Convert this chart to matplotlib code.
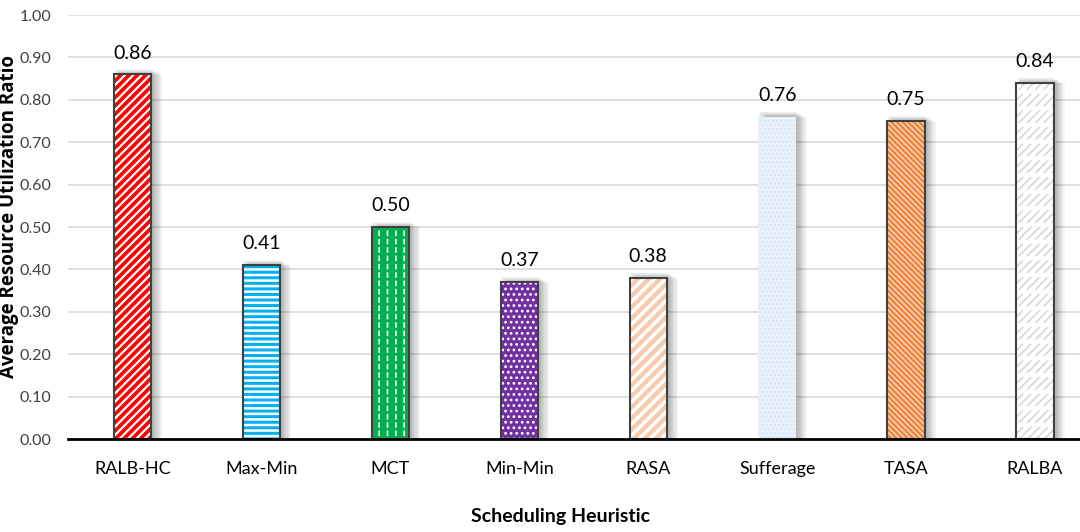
import matplotlib.pyplot as plt
import matplotlib.patches as mpatches

heuristics = ['RALB-HC', 'Max-Min', 'MCT', 'Min-Min', 'RASA', 'Sufferage', 'TASA', 'RALBA']
utilization = [0.86, 0.41, 0.50, 0.37, 0.38, 0.76, 0.75, 0.84]

face_colors = ['#FF0000', '#00B0F0', '#00B050', '#7030A0', '#F8CBAD', '#EAF2FB', '#ED7D31', '#FFFFFF']
hatch_colors = ['white', 'white', 'white', 'white', 'white', '#D6E6F5', '#F8CBAD', '#D6D6D6']
hatches = ['////', '---', '||', '...', '///', '....', '\\\\\\\\\\\\', '////']
hatch_widths = [1.6, 1.8, 1.2, 1.2, 2.5, 1.0, 1.4, 1.2]
edge_colors = ['#404040'] * 5 + ['none', '#404040', '#404040']
# second hatch layer that cuts lines into short dashes (MCT, RALBA)
break_hatch = {2: ('#00B050', '--', 2.0), 7: ('white', '-', 3.0)}

plt.rcParams['font.family'] = ['Lato', 'DejaVu Sans']

fig = plt.figure(figsize=(10.8, 5.32), dpi=100)
ax = fig.add_axes([0.063, 0.1748, 0.955, 0.797])

x = list(range(len(heuristics)))
width = 0.29

# soft drop shadow on the right of every bar
for i, v in enumerate(utilization):
    for k in range(10):
        off = 0.004 + k * 0.009
        ax.add_patch(mpatches.Rectangle((i - width / 2 + off, 0), width, v + 0.012 - k * 0.0015,
                                        facecolor='#000000', alpha=0.035, linewidth=0, zorder=1))

for i, v in enumerate(utilization):
    plt.rcParams['hatch.color'] = hatch_colors[i]
    plt.rcParams['hatch.linewidth'] = hatch_widths[i]
    ax.bar(i, v, width, color=face_colors[i], hatch=hatches[i],
           edgecolor=hatch_colors[i], linewidth=0, zorder=2)
    if i in break_hatch:
        col, h, lw = break_hatch[i]
        plt.rcParams['hatch.color'] = col
        plt.rcParams['hatch.linewidth'] = lw
        ax.bar(i, v, width, fill=False, hatch=h, edgecolor=col, linewidth=0, zorder=2.5)
    ax.bar(i, v, width, fill=False, edgecolor=edge_colors[i], linewidth=1.5, zorder=3)
    ax.text(i, v + 0.03, f'{v:.2f}', ha='center', va='bottom', fontsize=14, color='black', zorder=4)

ax.set_xlim(-0.5, len(heuristics) - 0.5)
ax.set_ylim(0, 1.0)
ax.set_yticks([i / 10 for i in range(11)])
ax.set_yticklabels([f'{i / 10:.2f}' for i in range(11)], fontsize=11.5, color='#404040')
ax.set_xticks(x)
ax.set_xticklabels(heuristics, fontsize=13)
ax.tick_params(axis='both', length=0)
ax.tick_params(axis='x', pad=16)
ax.tick_params(axis='y', pad=12)

ax.grid(axis='y', color='#D9D9D9', linewidth=1.2, zorder=0)
ax.set_axisbelow(True)
for s in ['top', 'right', 'left']:
    ax.spines[s].set_visible(False)
ax.spines['bottom'].set_linewidth(2)
ax.spines['bottom'].set_color('black')
ax.spines['bottom'].set_zorder(5)

ax.set_xlabel('Scheduling Heuristic', fontsize=14, fontweight='bold')
ax.xaxis.set_label_coords(0.477, -0.163)
ax.set_ylabel('Average Resource Utilization Ratio', fontsize=13.5, fontweight='bold',
              family=['Open Sans', 'DejaVu Sans'])
ax.yaxis.set_label_coords(-0.048, 0.525)

fig.savefig('out.png', dpi=100)
